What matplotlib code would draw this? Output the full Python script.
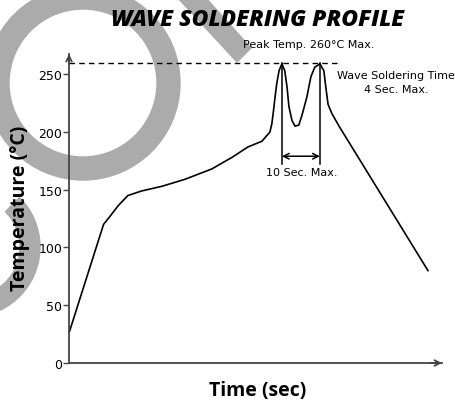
import matplotlib
matplotlib.use("Agg")
import matplotlib.pyplot as plt
from matplotlib.patches import Wedge, Polygon
from matplotlib.transforms import Affine2D

# profile (time in sec, temperature in degC)
time = [0.1, 9.1, 10.8, 12.9, 15.5, 19.2, 24.5, 30.5, 37.6, 42.9, 47.1, 50.8,
        52.9, 53.4, 53.9, 54.2, 54.7, 55.3, 56.05, 56.8, 57.4, 57.9, 58.7, 59.5,
        60.5, 61.3, 62.6, 63.7, 64.7, 66.05, 67.1, 67.6, 68.2, 69.2, 71.1, 94.5]
temp = [27, 120, 127, 136, 145, 149, 153, 159, 168, 178, 187, 192,
        200, 207, 220, 229, 242, 253, 259, 253, 239, 222, 210, 205,
        206, 214, 230, 248, 256, 259, 253, 239, 224, 216, 205, 80]
peak1 = 56.05
peak2 = 66.05
peak_limit = 260
yticks = [0, 50, 100, 150, 200, 250]

fig = plt.figure(figsize=(4.56, 4.02), dpi=100)
ax = fig.add_axes([69/456, 38/402, 373/456, 309/402])
ax.set_facecolor("none")

ax.plot(time, temp, color="black", lw=1.2)
ax.plot([0, 71.3], [peak_limit, peak_limit], color="black", lw=1, ls=(0, (4, 3)))
ax.plot([peak1, peak1], [peak_limit, 172], color="black", lw=1.1)
ax.plot([peak2, peak2], [peak_limit, 172], color="black", lw=1.1)
ax.annotate("", xy=(peak1, 179), xytext=(peak2, 179),
            arrowprops=dict(arrowstyle="<->", color="black", lw=1.1, shrinkA=0, shrinkB=0))

ax.set_xlim(0, 98.2)
ax.set_ylim(0, 267.5)
ax.set_xticks([])
ax.set_yticks(yticks)
ax.tick_params(axis="y", length=4, width=1, color="#444444", labelsize=9, pad=1)
for s in ["top", "right"]:
    ax.spines[s].set_visible(False)
for s in ["left", "bottom"]:
    ax.spines[s].set_color("#444444")
    ax.spines[s].set_linewidth(1.3)
ax.annotate("", xy=(1.0, 0), xytext=(0.97, 0), xycoords="axes fraction",
            arrowprops=dict(arrowstyle="->", color="#444444", lw=1.3, shrinkA=0, shrinkB=0))
ax.annotate("", xy=(0, 1.0), xytext=(0, 0.97), xycoords="axes fraction",
            arrowprops=dict(arrowstyle="->", color="#444444", lw=1.3, shrinkA=0, shrinkB=0))

ax.text(63.2, 276, "Peak Temp. 260°C Max.", fontsize=8, ha="center", va="center")
ax.text(86.2, 243, "Wave Soldering Time\n4 Sec. Max.", fontsize=8, ha="center", va="center",
        linespacing=1.5)
ax.text(61.3, 165, "10 Sec. Max.", fontsize=8, ha="center", va="center")

fig.text(258/456, 1 - 20/402, "WAVE SOLDERING PROFILE", family="Open Sans",
         weight=800, style="italic", fontsize=16.5, ha="center", va="center")
fig.text(258/456, 1 - 391/402, "Time (sec)", family="Open Sans", weight="bold",
         fontsize=14, ha="center", va="center")
fig.text(20/456, 1 - 208/402, "Temperature (°C)", family="Open Sans", weight="bold",
         fontsize=14, ha="center", va="center", rotation=90)

# grey watermark shapes, in pixels from the top-left corner
px = Affine2D().scale(1/100, -1/100).translate(0, 4.02) + fig.dpi_scale_trans
wm = "#ababab"
fig.patches.append(Wedge((83, 84), 97, 0, 360, width=23, color=wm, transform=px, zorder=-1))
fig.patches.append(Wedge((-30, 248), 70, -45, 130, width=20, color=wm, transform=px, zorder=-1))
fig.patches.append(Polygon([(177, -2), (205, -2), (251, 49), (237, 63)], closed=True,
                           color=wm, transform=px, zorder=-1))

fig.savefig("out.png", dpi=100)
